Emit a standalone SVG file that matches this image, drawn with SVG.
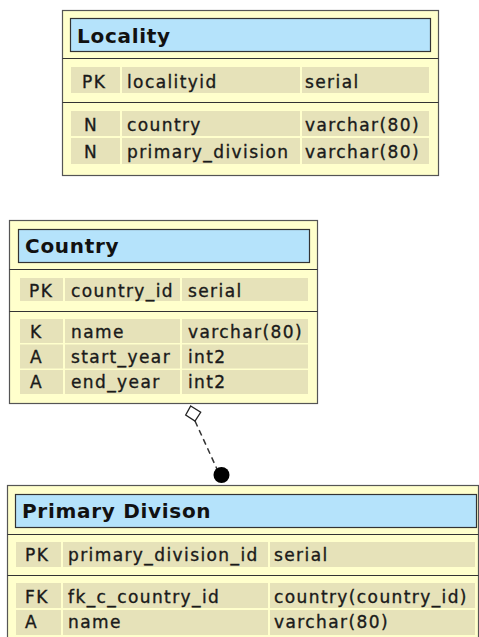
<svg xmlns="http://www.w3.org/2000/svg" width="479" height="637" viewBox="0 0 479 637">
<style>
.box{fill:#ffffcc;stroke:#555;stroke-width:1.2}
.title{fill:#b5e3fb;stroke:#333;stroke-width:1.2}
.sep{stroke:#333;stroke-width:1.2}
.cell{fill:#e6e2b9}
.tt{font-family:"DejaVu Sans",sans-serif;font-size:20px;font-weight:bold;letter-spacing:0.7px;fill:#111}
.ft{font-family:"DejaVu Sans",sans-serif;font-size:17px;letter-spacing:1.4px;fill:#1a1a1a;stroke:#1a1a1a;stroke-width:0.35}
.conn{stroke:#333;stroke-width:1.5;fill:none;stroke-dasharray:6 4}
</style>
<rect width="479" height="637" fill="#ffffff"/>
<g id="locality">
<rect class="box" x="62.5" y="10.5" width="376" height="165"/>
<rect class="title" x="70.5" y="18.5" width="360" height="33"/>
<text class="tt" x="77" y="43">Locality</text>
<line class="sep" x1="62.5" y1="58.5" x2="438.5" y2="58.5"/>
<rect class="cell" x="71" y="67" width="49" height="26"/>
<rect class="cell" x="122" y="67" width="178" height="26"/>
<rect class="cell" x="302" y="67" width="127" height="26"/>
<line class="sep" x1="62.5" y1="102.5" x2="438.5" y2="102.5"/>
<rect class="cell" x="71" y="111" width="49" height="25"/>
<rect class="cell" x="122" y="111" width="178" height="25"/>
<rect class="cell" x="302" y="111" width="127" height="25"/>
<rect class="cell" x="71" y="138" width="49" height="26"/>
<rect class="cell" x="122" y="138" width="178" height="26"/>
<rect class="cell" x="302" y="138" width="127" height="26"/>
<text class="ft" x="82" y="88">PK</text>
<text class="ft" x="127" y="88">localityid</text>
<text class="ft" x="305" y="88">serial</text>
<text class="ft" x="84" y="131">N</text>
<text class="ft" x="127" y="131">country</text>
<text class="ft" x="305" y="131">varchar(80)</text>
<text class="ft" x="84" y="158">N</text>
<text class="ft" x="127" y="158">primary_division</text>
<text class="ft" x="305" y="158">varchar(80)</text>
</g>
<g id="country">
<rect class="box" x="9.5" y="220.5" width="308" height="183"/>
<rect class="title" x="18.5" y="229.5" width="291" height="33"/>
<text class="tt" x="25" y="253">Country</text>
<line class="sep" x1="9.5" y1="269.5" x2="317.5" y2="269.5"/>
<rect class="cell" x="20" y="278" width="43" height="23"/>
<rect class="cell" x="65" y="278" width="115" height="23"/>
<rect class="cell" x="182" y="278" width="126" height="23"/>
<line class="sep" x1="9.5" y1="311.5" x2="317.5" y2="311.5"/>
<rect class="cell" x="20" y="319" width="43" height="24"/>
<rect class="cell" x="65" y="319" width="115" height="24"/>
<rect class="cell" x="182" y="319" width="126" height="24"/>
<rect class="cell" x="20" y="344.5" width="43" height="24"/>
<rect class="cell" x="65" y="344.5" width="115" height="24"/>
<rect class="cell" x="182" y="344.5" width="126" height="24"/>
<rect class="cell" x="20" y="370" width="43" height="24"/>
<rect class="cell" x="65" y="370" width="115" height="24"/>
<rect class="cell" x="182" y="370" width="126" height="24"/>
<text class="ft" x="29" y="297">PK</text>
<text class="ft" x="71" y="297">country_id</text>
<text class="ft" x="188" y="297">serial</text>
<text class="ft" x="30" y="338">K</text>
<text class="ft" x="71" y="338">name</text>
<text class="ft" x="188" y="338">varchar(80)</text>
<text class="ft" x="30" y="363">A</text>
<text class="ft" x="71" y="363">start_year</text>
<text class="ft" x="188" y="363">int2</text>
<text class="ft" x="30" y="388">A</text>
<text class="ft" x="71" y="388">end_year</text>
<text class="ft" x="188" y="388">int2</text>
</g>
<g id="primary_division">
<rect class="box" x="7.5" y="485.5" width="471" height="160"/>
<rect class="title" x="15.5" y="494.5" width="461" height="33"/>
<text class="tt" x="22" y="518">Primary Divison</text>
<line class="sep" x1="7.5" y1="534.5" x2="478.5" y2="534.5"/>
<rect class="cell" x="16" y="542" width="45" height="25"/>
<rect class="cell" x="63" y="542" width="205" height="25"/>
<rect class="cell" x="270" y="542" width="205" height="25"/>
<line class="sep" x1="7.5" y1="575.5" x2="478.5" y2="575.5"/>
<rect class="cell" x="16" y="583" width="45" height="25"/>
<rect class="cell" x="63" y="583" width="205" height="25"/>
<rect class="cell" x="270" y="583" width="205" height="25"/>
<rect class="cell" x="16" y="610" width="45" height="25"/>
<rect class="cell" x="63" y="610" width="205" height="25"/>
<rect class="cell" x="270" y="610" width="205" height="25"/>
<text class="ft" x="25" y="561">PK</text>
<text class="ft" x="68" y="561">primary_division_id</text>
<text class="ft" x="274" y="561">serial</text>
<text class="ft" x="25" y="603">FK</text>
<text class="ft" x="68" y="603">fk_c_country_id</text>
<text class="ft" x="274" y="603">country(country_id)</text>
<text class="ft" x="25" y="628">A</text>
<text class="ft" x="68" y="628">name</text>
<text class="ft" x="274" y="628">varchar(80)</text>
</g>
<g id="connectors">
<line class="conn" x1="195" y1="421" x2="217" y2="469"/>
<polygon points="190.7,406 200.7,412.3 195,421 185.7,415" fill="#ffffff" stroke="#222" stroke-width="1.3"/>
<circle cx="221.5" cy="475" r="8" fill="#000"/>
</g>
</svg>
